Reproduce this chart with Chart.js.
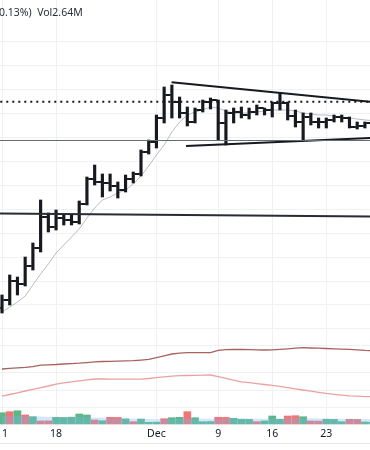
<!DOCTYPE html>
<html>
<head>
<meta charset="utf-8">
<script src="https://cdn.jsdelivr.net/npm/chart.js@4.4.1/dist/chart.umd.min.js"></script>
<style>
  html, body { margin: 0; padding: 0; background: #fff; }
  #wrap { position: relative; width: 370px; height: 450px; overflow: hidden; }
  #legend { position: absolute; left: -1px; top: 5px; font: 10.5px 'Noto Sans', sans-serif; color: #2a2e39; white-space: pre; }
  #bottomLine { position: absolute; left: 0; right: 0; top: 443px; border-top: 1px solid #e6e8ee; }
</style>
</head>
<body>
<div id="wrap">
  <canvas id="chart" width="370" height="450"></canvas>
  <div id="legend">0.13%)  Vol2.64M</div>
  <div id="bottomLine"></div>
</div>
<script>
// daily bars, Nov 11 -> Dec 29 (index 0 = Nov 11)
const tickIndex = [0, 7, 20, 28, 35, 42];
const tickLabels = ['11', '18', 'Dec', '9', '16', '23'];

const opens  = [0.92,1.00,1.19,1.16,1.34,1.52,1.83,1.73,1.82,1.80,1.78,1.96,2.21,2.18,2.17,2.14,2.10,2.21,2.26,2.48,2.58,2.82,3.05,2.98,2.87,2.78,2.90,2.98,3.00,2.77,2.87,2.88,2.85,2.88,2.92,2.90,2.97,2.97,2.84,2.78,2.83,2.78,2.78,2.80,2.83,2.82,2.73,2.74,2.77];
const highs  = [1.05,1.25,1.23,1.43,1.57,2.00,1.87,1.90,1.85,1.85,1.99,2.23,2.35,2.26,2.26,2.18,2.25,2.28,2.50,2.60,2.85,3.13,3.15,3.03,2.93,2.92,3.00,3.02,3.00,2.90,2.92,2.93,2.92,2.95,2.92,2.98,3.07,2.98,2.90,2.87,2.87,2.82,2.82,2.85,2.85,2.83,2.78,2.78,2.79];
const lows   = [0.87,0.95,1.05,1.14,1.30,1.48,1.68,1.70,1.75,1.75,1.76,1.95,2.15,2.03,2.09,2.02,2.08,2.17,2.24,2.46,2.52,2.77,2.82,2.82,2.74,2.77,2.88,2.91,2.60,2.55,2.77,2.82,2.81,2.85,2.85,2.83,2.90,2.80,2.73,2.60,2.75,2.72,2.72,2.78,2.78,2.72,2.71,2.72,2.74];
const closes = [1.00,1.19,1.16,1.34,1.52,1.83,1.73,1.82,1.80,1.78,1.96,2.21,2.18,2.17,2.14,2.10,2.21,2.26,2.48,2.58,2.82,3.05,2.98,2.87,2.78,2.90,2.98,3.00,2.77,2.87,2.88,2.85,2.88,2.92,2.90,2.97,2.97,2.84,2.78,2.83,2.78,2.78,2.80,2.83,2.82,2.73,2.74,2.77,2.76];
const maLine = [0.88,0.93,0.98,1.04,1.15,1.26,1.36,1.47,1.55,1.63,1.71,1.82,1.92,2.00,2.03,2.07,2.10,2.16,2.24,2.34,2.45,2.55,2.68,2.78,2.85,2.88,2.90,2.93,2.92,2.89,2.87,2.87,2.87,2.88,2.89,2.90,2.90,2.90,2.89,2.87,2.86,2.85,2.85,2.84,2.83,2.82,2.81,2.80,2.795];

// volume (M), 1 = up bar colour, -1 = down bar colour
const volumes = [17.5,19.1,20.6,14.0,11.3,4.7,4.9,10.4,10.1,10.6,15.5,14.0,6.2,5.1,10.4,10.2,7.8,3.6,7.6,2.6,2.8,8.2,9.8,10.4,19.1,9.8,3.6,3.8,10.4,10.2,8.8,7.3,7.1,3.6,4.7,12.4,7.3,12.4,12.9,11.3,4.7,4.5,7.3,7.1,3.6,7.3,7.1,3.2,2.64];
const volDir  = [1,-1,1,-1,1,-1,-1,1,1,1,1,1,-1,1,-1,-1,1,-1,1,1,1,-1,1,1,-1,1,1,1,-1,-1,1,1,1,-1,1,1,1,-1,-1,1,-1,-1,1,1,1,-1,-1,1,1];
const volMa   = [11.5,11.8,12,12,11.8,11.5,11,10.8,10.6,10.5,10.5,10.3,10,9.6,9.3,9,8.8,8.4,8,7.7,7.5,7.4,7.5,7.7,8.3,8.5,8.4,8.2,8.3,8.5,8.6,8.6,8.5,8.3,8.2,8.4,8.5,8.7,8.9,9,8.8,8.6,8.4,8.3,8.1,8,7.9,7.6,7.4];

// lower indicator pane, two lines
const indUpper = [15.5,15.8,16.05,16.3,16.65,17.4,17.6,17.75,18.0,18.2,18.4,18.7,19.05,19.25,19.35,19.45,19.55,19.65,19.95,20.3,21.2,22.1,23.0,23.4,23.65,23.65,23.65,23.7,24.8,25.2,25.35,25.25,25.15,25.1,25.0,25.1,25.35,25.6,25.9,26.15,26.0,25.9,25.75,25.6,25.45,25.35,25.1,24.8,24.6];
const indLower = [1.9,2.75,3.6,4.5,5.35,6.2,7.0,7.9,8.6,9.1,9.6,10.1,10.5,10.5,10.45,10.4,10.4,10.4,10.4,10.75,11.2,11.6,11.9,12.15,12.25,12.35,12.45,12.5,11.65,10.8,9.9,9.1,8.65,8.2,7.75,7.3,6.85,6.2,5.6,5.0,4.4,3.85,3.3,2.85,2.45,2.1,1.9,1.7,1.65];

// drawings: [index, price]
const dottedLevel = [[-1, 2.983], [49, 2.983]];
const grayLevel = [[-1, 2.595], [49, 2.595]];
const supportLine = [[-1, 1.866], [49, 1.834]];
const triangleTop = [[21.96, 3.177], [48.5, 2.977]];
const triangleBottom = [[23.84, 2.54], [48.5, 2.623]];

// grid values
const priceGrid = [3.58, 3.341, 3.102, 2.863, 2.624, 2.385, 2.146, 1.907, 1.668, 1.429, 1.19, 0.951, 0.712];
const indGrid = [27.5, 14, 5];
const volGrid = [26.35];

const barColor = '#17191f';
const gridColor = '#eff1f5';

function tickImage(side) {
  const c = document.createElement('canvas');
  c.width = 9; c.height = 2;
  const g = c.getContext('2d');
  g.fillStyle = barColor;
  if (side === 'left') g.fillRect(0, 0, 3.5, 2);
  else g.fillRect(5.5, 0, 3.5, 2);
  return c;
}

const pts = (arr) => arr.map((v, i) => ({x: i, y: v}));
const seg = (arr) => arr.map(p => ({x: p[0], y: p[1]}));

function levelSet(data, color, width, dash) {
  return {
    type: 'line', yAxisID: 'y', data: seg(data), borderColor: color,
    borderWidth: width, borderDash: dash || [], pointRadius: 0, order: 1
  };
}

function hiddenY(extra) {
  return Object.assign({
    type: 'linear', position: 'left', stack: 'pane', offset: false,
    ticks: { display: false },
    border: { display: false },
    grid: { color: gridColor, drawTicks: false },
    afterFit: (s) => { s.width = 0; s.paddingLeft = 0; s.paddingRight = 0; }
  }, extra);
}

new Chart('chart', {
  type: 'bar',
  data: {
    datasets: [
      {
        type: 'bar', yAxisID: 'y', grouped: false, order: 2,
        data: lows.map((l, i) => ({x: i, y: [l, highs[i]]})),
        backgroundColor: barColor, barThickness: 2.5
      },
      {
        type: 'scatter', yAxisID: 'y', order: 2,
        data: pts(opens), pointStyle: tickImage('left'), pointRadius: 3
      },
      {
        type: 'scatter', yAxisID: 'y', order: 2,
        data: pts(closes), pointStyle: tickImage('right'), pointRadius: 3
      },
      {
        type: 'line', yAxisID: 'y', data: pts(maLine), order: 3,
        borderColor: '#b9bcc4', borderWidth: 1, pointRadius: 0
      },
      levelSet(dottedLevel, barColor, 2, [2, 4]),
      levelSet(grayLevel, '#686b76', 1.2),
      levelSet(supportLine, '#2a2c33', 2),
      levelSet(triangleTop, barColor, 2),
      levelSet(triangleBottom, barColor, 2),
      {
        type: 'line', yAxisID: 'yi', data: pts(indUpper),
        borderColor: '#a8625e', borderWidth: 1.3, pointRadius: 0
      },
      {
        type: 'line', yAxisID: 'yi', data: pts(indLower),
        borderColor: '#e8a3a0', borderWidth: 1.3, pointRadius: 0
      },
      {
        type: 'bar', yAxisID: 'yv', grouped: false, order: 5,
        data: pts(volumes), barThickness: 7,
        backgroundColor: volDir.map(d => d > 0 ? '#5cb88a' : '#f07676')
      },
      {
        type: 'line', yAxisID: 'yv', data: pts(volMa), order: 4,
        borderWidth: 0, pointRadius: 0, fill: 'origin',
        backgroundColor: 'rgba(120,180,240,0.32)'
      }
    ]
  },
  options: {
    responsive: false,
    animation: false,
    events: [],
    layout: { padding: 0, autoPadding: false },
    plugins: { legend: { display: false }, tooltip: { enabled: false } },
    scales: {
      x: {
        type: 'linear', position: 'bottom', min: -0.26, max: 47.66,
        offset: false,
        border: { display: false },
        grid: { color: gridColor, drawTicks: false, offset: false },
        ticks: {
          autoSkip: false, maxRotation: 0, padding: 2,
          color: '#131722', font: { family: 'Noto Sans', size: 10.5 },
          callback: (v) => tickLabels[tickIndex.indexOf(v)]
        },
        afterBuildTicks: (s) => { s.ticks = tickIndex.map(v => ({value: v})); },
        afterFit: (s) => { s.height = 24; s.paddingLeft = 0; s.paddingRight = 0; }
      },
      yv: hiddenY({ stackWeight: 26, min: -3.1, max: 37.2,
        afterBuildTicks: (s) => { s.ticks = volGrid.map(v => ({value: v})); } }),
      yi: hiddenY({ stackWeight: 55, min: 0, max: 27.5,
        afterBuildTicks: (s) => { s.ticks = indGrid.map(v => ({value: v})); } }),
      y: hiddenY({ stackWeight: 345, min: 0.55, max: 4.0,
        afterBuildTicks: (s) => { s.ticks = priceGrid.map(v => ({value: v})); } })
    }
  }
});
</script>
</body>
</html>
